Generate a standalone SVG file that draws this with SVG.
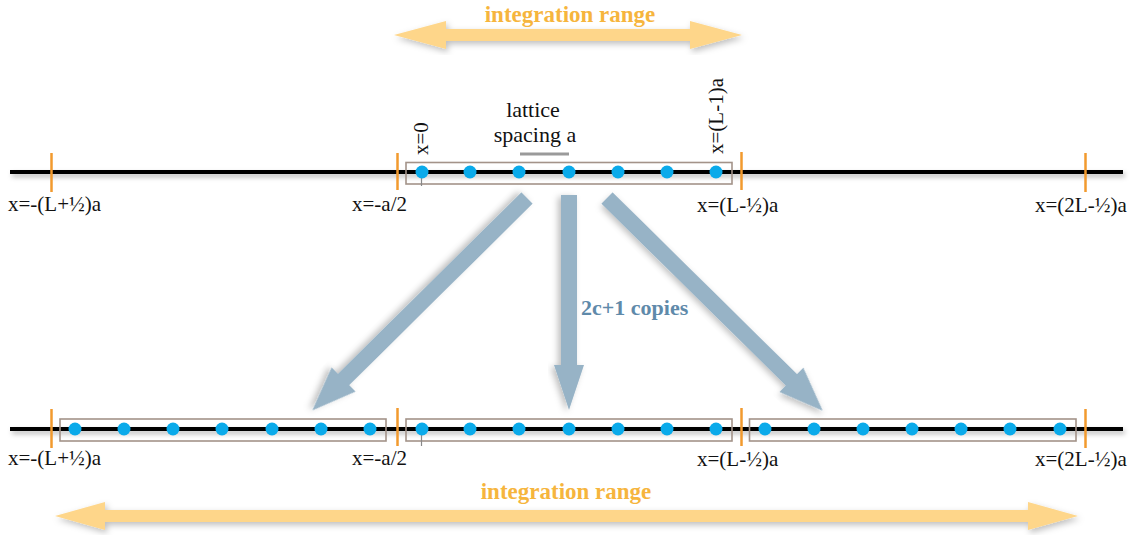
<svg xmlns="http://www.w3.org/2000/svg" width="1136" height="535" viewBox="0 0 1136 535">
<defs>
<filter id="sh" x="-10%" y="-200%" width="120%" height="600%">
<feDropShadow dx="2" dy="3" stdDeviation="2.5" flood-color="#000" flood-opacity="0.28"/>
</filter>
<filter id="sh2" x="-20%" y="-20%" width="140%" height="140%">
<feDropShadow dx="2" dy="3" stdDeviation="3" flood-color="#000" flood-opacity="0.25"/>
</filter>
</defs>
<style>
.axis{fill:#000;filter:url(#sh)}
.tick{stroke:#f29a2e;stroke-width:2.5}
.box{fill:none;stroke:#a39389;stroke-width:1.6}
.dot{fill:#0aaaea}
.lbl{font-family:"Liberation Serif",serif;font-size:21px;fill:#111}
.lat{font-family:"Liberation Serif",serif;font-size:22px;fill:#111}
.rng{font-family:"Liberation Serif",serif;font-size:23px;font-weight:bold;fill:#f6b53d}
.rarrow{fill:#fed68a;filter:url(#sh2)}
.barrow{fill:#97b3c6;filter:url(#sh2)}
.cop{font-family:"Liberation Serif",serif;font-size:22px;font-weight:bold;fill:#5f8aaa}
</style>

<g id="range-top">
<polygon class="rarrow" points="394,35 446,21 446,29 690,29 690,21 742,35 690,49 690,41 446,41 446,49"/>
<text class="rng" x="570" y="22" text-anchor="middle">integration range</text>
</g>

<g id="top-line">
<rect class="axis" x="10" y="170" width="1113" height="4"/>
<line class="tick" x1="51.5" y1="153" x2="51.5" y2="192"/>
<line class="tick" x1="397.5" y1="153" x2="397.5" y2="190"/>
<line class="tick" x1="741.5" y1="152" x2="741.5" y2="190"/>
<line class="tick" x1="1085.5" y1="153" x2="1085.5" y2="192"/>
<rect class="box" x="406" y="162.5" width="326" height="21.5"/>
<line x1="421.5" y1="172" x2="421.5" y2="186" stroke="#888" stroke-width="1.2"/>
<circle class="dot" cx="422" cy="172" r="6.5"/>
<circle class="dot" cx="470" cy="172" r="6.5"/>
<circle class="dot" cx="519" cy="172" r="6.5"/>
<circle class="dot" cx="569" cy="172" r="6.5"/>
<circle class="dot" cx="618" cy="172" r="6.5"/>
<circle class="dot" cx="667" cy="172" r="6.5"/>
<circle class="dot" cx="716" cy="172" r="6.5"/>
<text class="lbl" transform="translate(428,155) rotate(-90)">x=0</text>
<text class="lbl" transform="translate(723,154) rotate(-90)">x=(L-1)a</text>
<text class="lat" x="533" y="117" text-anchor="middle">lattice</text>
<text class="lat" x="535" y="142" text-anchor="middle">spacing a</text>
<line x1="520" y1="154" x2="569" y2="154" stroke="#9a9a9a" stroke-width="3"/>
<text class="lbl" x="8" y="211">x=-(L+½)a</text>
<text class="lbl" x="352" y="211">x=-a/2</text>
<text class="lbl" x="697" y="212">x=(L-½)a</text>
<text class="lbl" x="1035" y="212">x=(2L-½)a</text>
</g>

<g id="copy-arrows">
<polygon class="barrow" transform="translate(527,198) rotate(135.3)" points="0,-8 258,-8 258,-17 302,0 258,17 258,8 0,8"/>
<polygon class="barrow" transform="translate(569,195) rotate(90)" points="0,-8 170,-8 170,-15 215,0 170,15 170,8 0,8"/>
<polygon class="barrow" transform="translate(607,198) rotate(44.6)" points="0,-8 259,-8 259,-17 303,0 259,17 259,8 0,8"/>
<text class="cop" x="581" y="315">2c+1 copies</text>
</g>

<g id="bottom-line">
<rect class="axis" x="10" y="427" width="1113" height="4"/>
<line class="tick" x1="51.5" y1="409" x2="51.5" y2="448"/>
<line class="tick" x1="397.5" y1="408" x2="397.5" y2="446"/>
<line class="tick" x1="741.5" y1="408" x2="741.5" y2="446"/>
<line class="tick" x1="1085.5" y1="409" x2="1085.5" y2="448"/>
<rect class="box" x="60" y="419" width="326" height="22"/>
<rect class="box" x="406" y="419" width="326" height="22"/>
<rect class="box" x="749.5" y="419" width="326.5" height="22"/>
<line x1="421.5" y1="429" x2="421.5" y2="446" stroke="#888" stroke-width="1.2"/>
<circle class="dot" cx="75" cy="429" r="6.5"/>
<circle class="dot" cx="124" cy="429" r="6.5"/>
<circle class="dot" cx="173" cy="429" r="6.5"/>
<circle class="dot" cx="222" cy="429" r="6.5"/>
<circle class="dot" cx="272" cy="429" r="6.5"/>
<circle class="dot" cx="321" cy="429" r="6.5"/>
<circle class="dot" cx="370" cy="429" r="6.5"/>
<circle class="dot" cx="422" cy="429" r="6.5"/>
<circle class="dot" cx="470" cy="429" r="6.5"/>
<circle class="dot" cx="519" cy="429" r="6.5"/>
<circle class="dot" cx="569" cy="429" r="6.5"/>
<circle class="dot" cx="618" cy="429" r="6.5"/>
<circle class="dot" cx="667" cy="429" r="6.5"/>
<circle class="dot" cx="716" cy="429" r="6.5"/>
<circle class="dot" cx="765" cy="429" r="6.5"/>
<circle class="dot" cx="814" cy="429" r="6.5"/>
<circle class="dot" cx="863" cy="429" r="6.5"/>
<circle class="dot" cx="912" cy="429" r="6.5"/>
<circle class="dot" cx="961" cy="429" r="6.5"/>
<circle class="dot" cx="1010" cy="429" r="6.5"/>
<circle class="dot" cx="1060" cy="429" r="6.5"/>
<text class="lbl" x="8" y="465">x=-(L+½)a</text>
<text class="lbl" x="352" y="465">x=-a/2</text>
<text class="lbl" x="697" y="466">x=(L-½)a</text>
<text class="lbl" x="1035" y="466">x=(2L-½)a</text>
</g>

<g id="range-bottom">
<polygon class="rarrow" points="55,516 105,502 105,510 1028,510 1028,502 1078,516 1028,530 1028,522 105,522 105,530"/>
<text class="rng" x="566" y="499" text-anchor="middle">integration range</text>
</g>
</svg>
